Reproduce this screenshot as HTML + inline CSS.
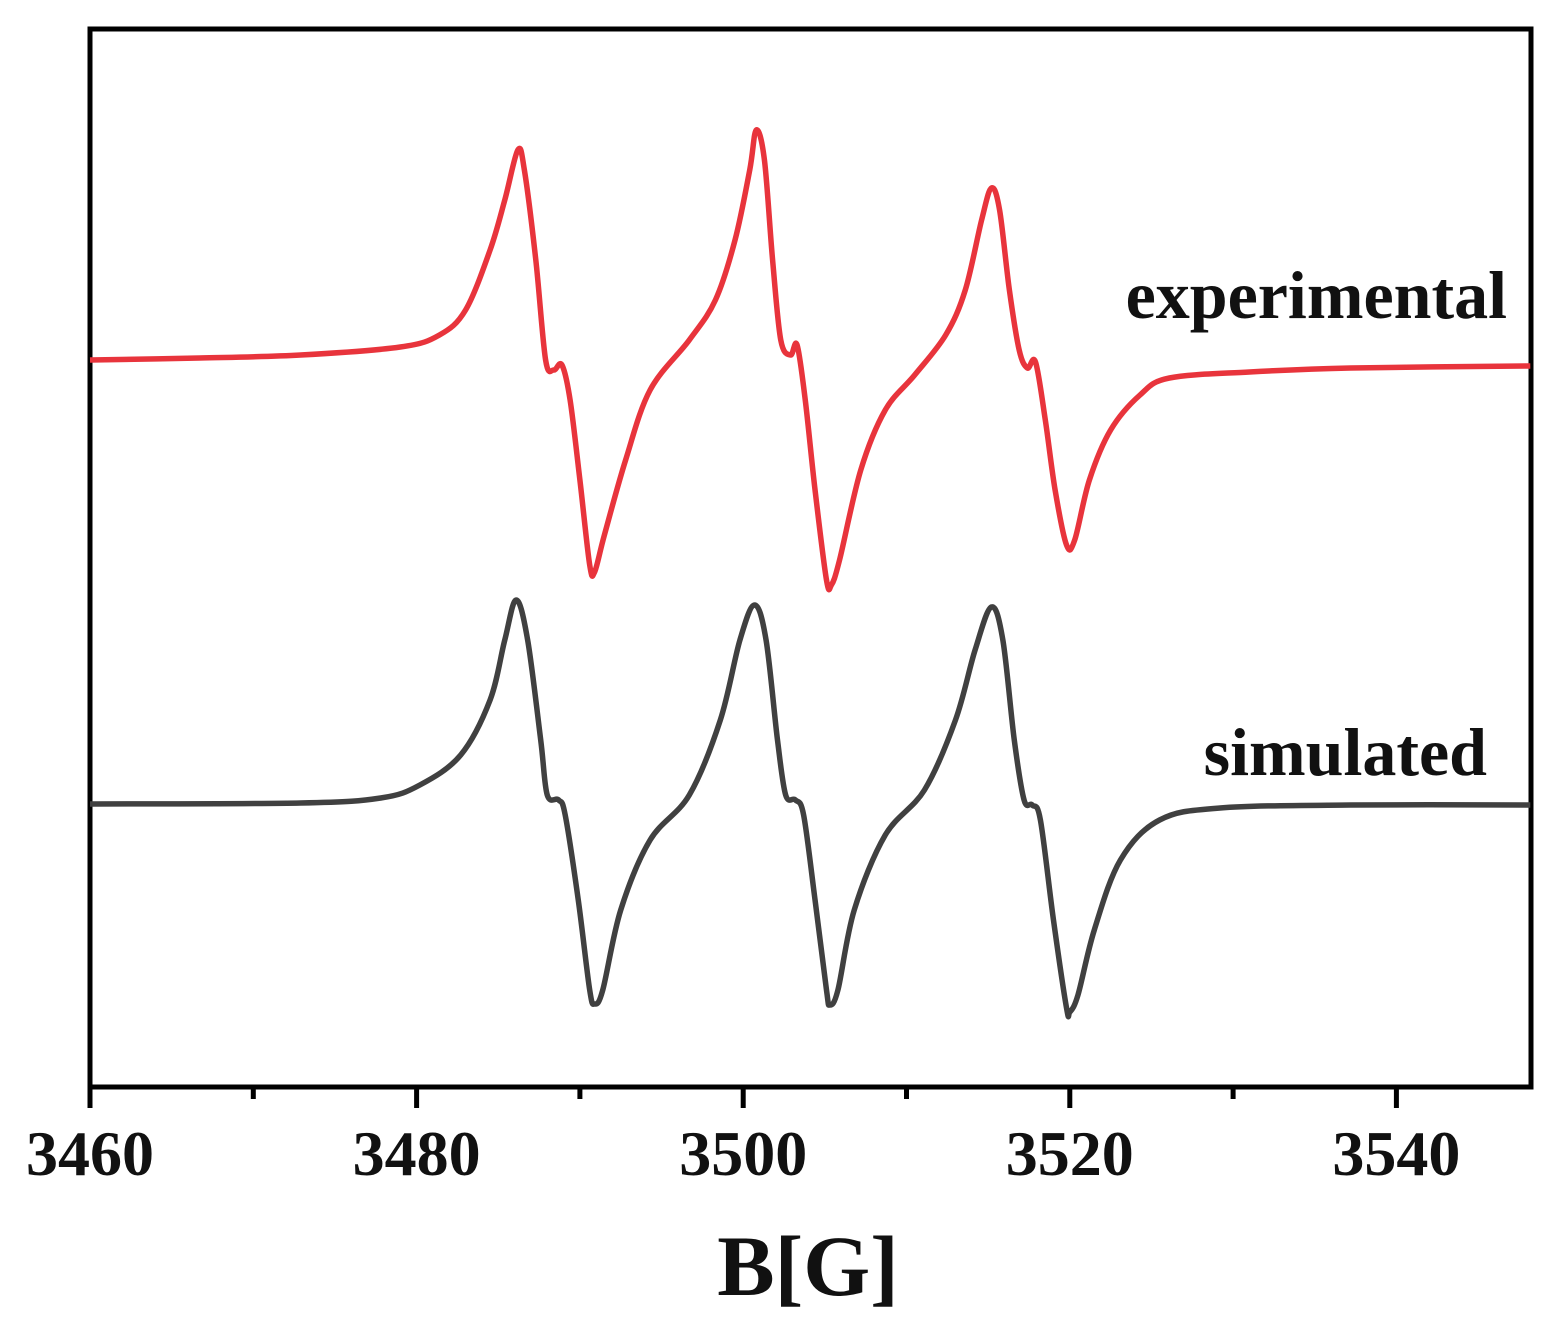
<!DOCTYPE html>
<html><head><meta charset="utf-8"><style>
body{margin:0;background:#fff}
svg{display:block}
text{font-family:"Liberation Serif",serif;font-weight:bold;fill:#111}
</style></head><body>
<svg id="chart" width="1555" height="1332" viewBox="0 0 1555 1332">
<rect x="90" y="29" width="1441" height="1058" fill="none" stroke="#000" stroke-width="5"/>
<g id="ticks"></g>
<g id="series"></g>
<text x="1507" y="318" font-size="68" text-anchor="end">experimental</text>
<text x="1487" y="775" font-size="68" text-anchor="end">simulated</text>
<text x="808" y="1295" font-size="86" text-anchor="middle">B[G]</text>
</svg>
<script>
const xTicks=[3460,3480,3500,3520,3540];
const xMinor=[3470,3490,3510,3530];
const expField=[3460,3466.7,3472.9,3479.0,3481.4,3483.0,3484.5,3485.4,3486.2,3486.6,3487.3,3487.9,3488.4,3488.9,3489.4,3490.0,3490.6,3490.9,3491.5,3492.8,3494.3,3496.7,3498.3,3499.5,3500.4,3500.8,3501.3,3501.8,3502.3,3502.9,3503.3,3503.8,3504.4,3505.1,3505.4,3505.9,3507.2,3508.7,3510.5,3512.4,3513.6,3514.6,3515.2,3515.7,3516.3,3516.9,3517.4,3517.9,3518.5,3519.1,3519.8,3520.3,3521.2,3522.5,3524.3,3526.1,3531.0,3537.2,3548.2];
const expPx=[360,358,355,347,335,310,250,200,150,170,260,360,370,365,400,480,565,572,535,460,390,340,300,240,170,130,160,260,340,355,345,400,490,580,585,560,470,410,375,335,290,220,188,210,290,350,368,362,420,490,545,540,480,430,395,378,372,368,366];
const expValues=expPx.map(p=>804-p);
const simField=[3460,3472.9,3477.8,3480.2,3482.7,3484.5,3485.4,3486.1,3486.8,3487.6,3488.0,3488.7,3489.1,3489.9,3490.6,3490.9,3491.4,3492.5,3494.3,3496.7,3498.6,3499.8,3500.7,3501.4,3502.1,3502.6,3503.2,3503.7,3504.4,3505.1,3505.3,3505.8,3506.8,3508.7,3511.1,3513.0,3514.2,3515.2,3515.9,3516.6,3517.2,3517.7,3518.2,3519.0,3519.8,3520.0,3520.5,3521.5,3523.1,3525.5,3529.2,3537.2,3548.2];
const simPx=[804,803,798,785,755,700,640,600,640,740,795,800,815,900,990,1004,990,910,840,795,720,640,605,640,740,795,800,815,900,990,1005,990,910,835,790,720,650,607,640,740,800,805,820,920,1008,1012,995,930,860,820,808,805,805];
const simValues=simPx.map(p=>804-p);
const xScale=g=>90+(g-3460)*16.33;
const yScale=v=>804-v;
const NS="http://www.w3.org/2000/svg";
const tk=document.getElementById('ticks');
xTicks.forEach(t=>{
  const l=document.createElementNS(NS,'line');
  
  
  l.setAttribute('x1',xScale(t));l.setAttribute('x2',xScale(t));
  l.setAttribute('y1',1087);l.setAttribute('y2',1108);
  l.setAttribute('stroke','#000');l.setAttribute('stroke-width',5);
  tk.appendChild(l);
  const tx=document.createElementNS(NS,'text');
  
  
  tx.setAttribute('x',xScale(t));tx.setAttribute('y',1175);
  tx.setAttribute('font-size',64);tx.setAttribute('text-anchor','middle');
  tx.textContent=t;
  tk.appendChild(tx);
});
xMinor.forEach(t=>{
  const l=document.createElementNS(NS,'line');
  
  
  l.setAttribute('x1',xScale(t));l.setAttribute('x2',xScale(t));
  l.setAttribute('y1',1087);l.setAttribute('y2',1099);
  l.setAttribute('stroke','#000');l.setAttribute('stroke-width',5);
  tk.appendChild(l);
});
function path(xs,vs){
  const p=xs.map((x,i)=>[xScale(x),yScale(vs[i])]);
  let d='M'+p[0][0]+','+p[0][1];
  for(let i=0;i<p.length-1;i++){
    const p0=p[Math.max(0,i-1)],p1=p[i],p2=p[i+1],p3=p[Math.min(p.length-1,i+2)];
    const c1=[p1[0]+(p2[0]-p0[0])/6,p1[1]+(p2[1]-p0[1])/6];
    const c2=[p2[0]-(p3[0]-p1[0])/6,p2[1]-(p3[1]-p1[1])/6];
    d+=` C${c1[0]},${c1[1]} ${c2[0]},${c2[1]} ${p2[0]},${p2[1]}`;
  }
  return d;
}
const sg=document.getElementById('series');
const e=document.createElementNS(NS,'path');


e.setAttribute('d',path(expField,expValues));
e.setAttribute('fill','none');e.setAttribute('stroke','#e8343c');e.setAttribute('stroke-width',5.5);e.setAttribute('stroke-linejoin','round');
sg.appendChild(e);
const s=document.createElementNS(NS,'path');


s.setAttribute('d',path(simField,simValues));
s.setAttribute('fill','none');s.setAttribute('stroke','#404040');s.setAttribute('stroke-width',5.5);s.setAttribute('stroke-linejoin','round');
sg.appendChild(s);
</script>
</body></html>
